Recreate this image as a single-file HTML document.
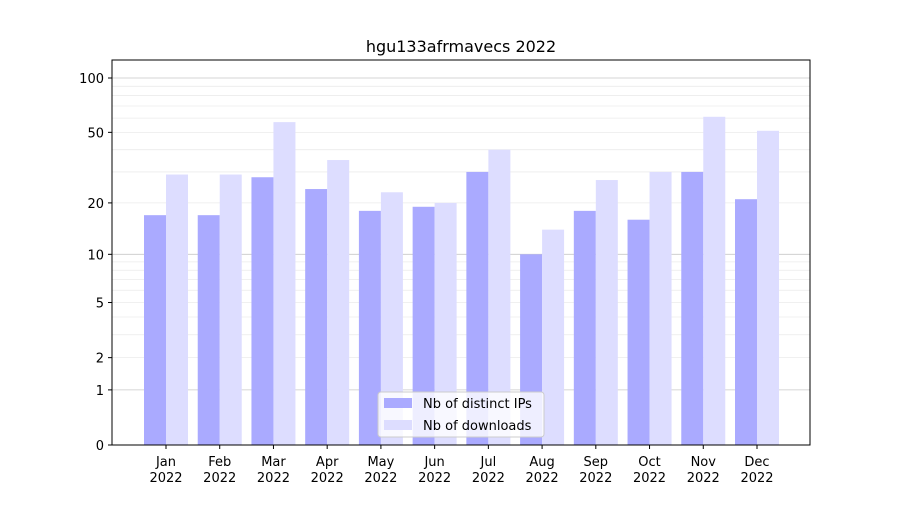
<!DOCTYPE html>
<html><head><meta charset="utf-8"><style>
body{margin:0;background:#fff;font-family:"Liberation Sans","DejaVu Sans",sans-serif;}
svg text{font-family:"DejaVu Sans","Liberation Sans",sans-serif;}
</style></head><body>
<svg id="chart" width="900" height="500" xmlns="http://www.w3.org/2000/svg">
<rect width="900" height="500" fill="#fff"/>
<text x="461" y="52" text-anchor="middle" font-size="16">hgu133afrmavecs 2022</text>
<g id="grid"></g><g id="bars"></g><g id="axes"></g>
</svg>
<script>
const categories=["Jan","Feb","Mar","Apr","May","Jun","Jul","Aug","Sep","Oct","Nov","Dec"];
const ipsValues=[17,17,28,24,18,19,30,10,18,16,30,21];
const downloadValues=[29,29,57,35,23,20,40,14,27,30,61,51];
const tickLabels=[0,1,2,5,10,20,50,100];
const NS="http://www.w3.org/2000/svg";
const L=112,R=810,T=60,B=445;
const pxPerUnit=183.1;
function y(v){return B-Math.log10(1+v)*pxPerUnit;}
function xc(i){return 166+i*(757-166)/11;}
function mk(tag,attrs,parent){const e=document.createElementNS(NS,tag);for(const k in attrs)e.setAttribute(k,attrs[k]);parent.appendChild(e);return e;}
const grid=document.getElementById('grid'),bars=document.getElementById('bars'),axes=document.getElementById('axes');
// minor grid
[2,3,4,5,6,7,8,9,20,30,40,50,60,70,80,90].forEach(v=>{
 const l=mk('line',{x1:L,x2:R,y1:y(v),y2:y(v),stroke:'#ebebeb','stroke-width':0.8},grid);
 
 
});
[1,10,100].forEach(v=>{
 const l=mk('line',{x1:L,x2:R,y1:y(v),y2:y(v),stroke:'#c8c8c8','stroke-width':0.8},grid);
 
 
});
const bw=22;
categories.forEach((c,i)=>{
 const b1=mk('rect',{x:xc(i)-bw,y:y(ipsValues[i]),width:bw,height:B-y(ipsValues[i]),fill:'#aaaaff'},bars);
 
 
 const b2=mk('rect',{x:xc(i),y:y(downloadValues[i]),width:bw,height:B-y(downloadValues[i]),fill:'#ddddff'},bars);
 
 
 mk('line',{x1:xc(i),x2:xc(i),y1:B,y2:B+4,stroke:'#000'},axes);
 const t=mk('text',{x:xc(i),y:B+21,'text-anchor':'middle','font-size':13},axes);
 
 
 t.textContent=c;
 const t2=mk('text',{x:xc(i),y:B+37,'text-anchor':'middle','font-size':13},axes);
 
 
 t2.textContent='2022';
});
tickLabels.forEach(v=>{
 mk('line',{x1:L-4,x2:L,y1:y(v),y2:y(v),stroke:'#000'},axes);
 const t=mk('text',{x:L-8,y:y(v)+5,'text-anchor':'end','font-size':13},axes);
 
 
 t.textContent=v;
});
const frame=mk('rect',{x:L,y:T,width:R-L,height:B-T,fill:'none',stroke:'#000','stroke-width':1},axes);


const lg=mk('g',{},axes);


mk('rect',{x:378,y:392,width:166,height:45,rx:3,fill:'#fff','fill-opacity':0.8,stroke:'#ccc'},lg);
mk('rect',{x:384,y:398,width:28,height:10,fill:'#aaaaff'},lg);
mk('rect',{x:384,y:420,width:28,height:10,fill:'#ddddff'},lg);
const l1=mk('text',{x:423,y:408,'font-size':13},lg);


l1.textContent='Nb of distinct IPs';
const l2=mk('text',{x:423,y:430,'font-size':13},lg);


l2.textContent='Nb of downloads';
</script>
</body></html>
